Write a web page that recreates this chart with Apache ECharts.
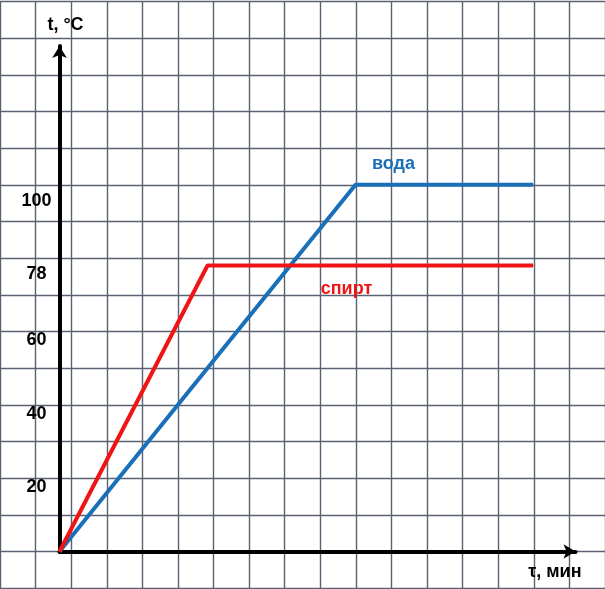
<!DOCTYPE html>
<html>
  <head>
    <meta charset="utf-8" />
    <title>t, °C</title>
    <script src="https://cdn.jsdelivr.net/npm/echarts@6/dist/echarts.min.js"></script>
    <style>
      body { margin: 0; background: #fff; }
    </style>
  </head>
  <body>
    <div id="main" style="width: 605px; height: 589px"></div>
    <script type="text/javascript">
      // данные графика
      var waterTime = [0, 8, 12.8];
      var waterTemp = [0, 100, 100];
      var alcoholTime = [0, 4, 12.8];
      var alcoholTemp = [0, 78, 78];
      var yTicks = [20, 40, 60, 78, 100];

      // клетка тетради: 37px по оси времени (1 мин), 36.67px по температуре (10 °C)
      var cellX = 37;
      var cellY = 36.67;
      var originX = 59.5;
      var originY = 551.5;

      var chartDom = document.getElementById('main');
      var myChart = echarts.init(chartDom);

      function pairs(xs, ys) {
        return xs.map(function (x, i) {
          return [x, ys[i]];
        });
      }

      var font = 'Liberation Sans, Arial, sans-serif';
      var waterData = pairs(waterTime, waterTemp);
      var alcoholData = pairs(alcoholTime, alcoholTemp);

      // подписи линий
      waterData[1] = {
        value: waterData[1],
        label: {
          show: true,
          formatter: 'вода',
          position: 'top',
          offset: [38, -6],
          color: '#1a70b8',
          fontWeight: 'bold',
          fontSize: 18,
          fontFamily: font
        }
      };
      alcoholData[1] = {
        value: alcoholData[1],
        label: {
          show: true,
          formatter: 'спирт',
          position: 'bottom',
          offset: [139, 9],
          color: '#f01414',
          fontWeight: 'bold',
          fontSize: 18,
          fontFamily: font
        }
      };

      var option = {
        backgroundColor: '#fff',
        animation: false,
        grid: [
          {
            // сетка тетради
            left: originX - 2 * cellX,
            top: originY - 15 * cellY,
            width: 17 * cellX,
            height: 16 * cellY,
            show: false
          },
          {
            left: originX,
            top: 46,
            width: 516,
            height: originY - 46
          }
        ],
        xAxis: [
          {
            type: 'value',
            gridIndex: 0,
            min: -2,
            max: 15,
            interval: 1,
            axisLine: { show: false },
            axisTick: { show: false },
            axisLabel: { show: false },
            splitLine: { lineStyle: { color: '#5a6172', width: 1.4 } }
          },
          {
            type: 'value',
            gridIndex: 1,
            min: 0,
            max: 516 / cellX,
            axisLine: {
              lineStyle: { color: '#000', width: 4 },
              symbol: ['none', 'arrow'],
              symbolSize: [11, 12]
            },
            axisTick: { show: false },
            axisLabel: { show: false },
            splitLine: { show: false },
            name: 'τ, мин',
            nameLocation: 'end',
            nameGap: 6,
            nameTextStyle: {
              color: '#000',
              fontWeight: 'bold',
              fontSize: 18,
              fontFamily: font,
              align: 'right',
              verticalAlign: 'top',
              padding: [12, 0, 0, 0]
            }
          }
        ],
        yAxis: [
          {
            type: 'value',
            gridIndex: 0,
            min: -10,
            max: 150,
            interval: 10,
            axisLine: { show: false },
            axisTick: { show: false },
            axisLabel: { show: false },
            splitLine: { lineStyle: { color: '#5a6172', width: 1.4 } }
          },
          {
            type: 'value',
            gridIndex: 1,
            min: 0,
            max: ((originY - 46) / cellY) * 10,
            axisLine: {
              lineStyle: { color: '#000', width: 4 },
              symbol: ['none', 'arrow'],
              symbolSize: [11, 12]
            },
            axisTick: { show: false },
            splitLine: { show: false },
            axisLabel: {
              customValues: yTicks,
              color: '#000',
              fontWeight: 'bold',
              fontSize: 18,
              fontFamily: font,
              align: 'center',
              verticalAlign: 'top',
              margin: 23,
              formatter: function (v) {
                return v === 100 ? '{hi|' + v + '}' : String(v);
              },
              rich: {
                hi: {
                  color: '#000',
                  fontWeight: 'bold',
                  fontSize: 18,
                  fontFamily: font,
                  padding: [7, 0, 0, 0]
                }
              }
            },
            name: 't, °C',
            nameLocation: 'end',
            nameGap: 12,
            nameTextStyle: {
              color: '#000',
              fontWeight: 'bold',
              fontSize: 18,
              fontFamily: font,
              padding: [0, 0, 0, 12]
            }
          }
        ],
        series: [
          {
            type: 'line',
            xAxisIndex: 1,
            yAxisIndex: 1,
            data: waterData,
            symbol: 'circle',
            symbolSize: 1,
            showSymbol: true,
            itemStyle: { color: '#1a70b8' },
            lineStyle: { color: '#1a70b8', width: 4 },
            z: 3
          },
          {
            type: 'line',
            xAxisIndex: 1,
            yAxisIndex: 1,
            data: alcoholData,
            symbol: 'circle',
            symbolSize: 1,
            showSymbol: true,
            itemStyle: { color: '#f01414' },
            lineStyle: { color: '#f01414', width: 4 },
            z: 4
          }
        ]
      };

      option && myChart.setOption(option);
    </script>
  </body>
</html>
